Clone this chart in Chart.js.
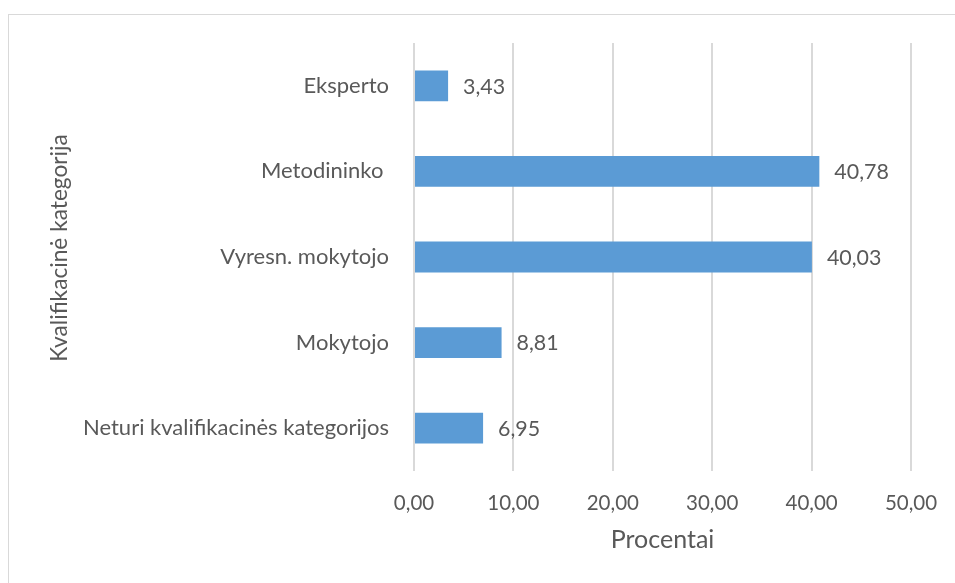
<!DOCTYPE html>
<html>
<head>
<meta charset="utf-8">
<script src="https://cdn.jsdelivr.net/npm/chart.js@4"></script>
<style>
  html, body { margin: 0; padding: 0; background: #fff; }
  #wrap { position: relative; width: 955px; height: 583px; }
  #frame { position: absolute; left: 8px; top: 14px; right: -2px; bottom: -2px; border: 1px solid #d9d9d9; }
  canvas { position: absolute; left: 0; top: 0; }
</style>
</head>
<body>
<div id="wrap">
  <div id="frame"></div>
  <canvas id="chart" width="955" height="583"></canvas>
</div>
<script>
const categories = ['Eksperto', 'Metodininko ', 'Vyresn. mokytojo', 'Mokytojo', 'Neturi kvalifikacinės kategorijos'];
const percentValues = [3.43, 40.78, 40.03, 8.81, 6.95];
const xTicks = [0, 10, 20, 30, 40, 50];
const yTitle = 'Kvalifikacinė kategorija';

const textColor = '#595959';
const fontFamily = 'Lato, "Open Sans", sans-serif';

function fmt(v) {
    return v.toFixed(2).replace('.', ',');
}

// value labels right of each bar + the rotated y title
const extraText = {
    id: 'extraText',
    afterDatasetsDraw(chart) {
        const ctx = chart.ctx;
        const meta = chart.getDatasetMeta(0);
        ctx.save();
        ctx.font = '21.4px ' + fontFamily;
        ctx.fillStyle = textColor;
        ctx.textAlign = 'left';
        ctx.textBaseline = 'middle';
        meta.data.forEach((bar, i) => {
            ctx.fillText(fmt(percentValues[i]), bar.x + 15, bar.y + 1);
        });

        // y title sits a bit above the plot centre in the original
        const area = chart.chartArea;
        ctx.translate(60, (area.top + area.bottom) / 2 - 9);
        ctx.rotate(-Math.PI / 2);
        ctx.font = '22.7px ' + fontFamily;
        ctx.textAlign = 'center';
        ctx.fillText(yTitle, 0, 0);
        ctx.restore();
    }
};

const ctx = document.getElementById('chart').getContext('2d');
new Chart(ctx, {
    type: 'bar',
    data: {
        labels: categories,
        datasets: [{
            data: percentValues,
            backgroundColor: '#5b9bd5',
            categoryPercentage: 1,
            barPercentage: 0.36
        }]
    },
    options: {
        indexAxis: 'y',
        responsive: false,
        animation: false,
        layout: { padding: { top: 43, right: 44, left: 0, bottom: 0 } },
        plugins: {
            legend: { display: false },
            tooltip: { enabled: false }
        },
        scales: {
            x: {
                min: 0,
                max: 50,
                afterBuildTicks: (scale) => { scale.ticks = xTicks.map(v => ({ value: v })); },
                afterFit: (scale) => {
                    scale.height = 112;
                    scale.paddingRight = 0;
                    scale.paddingLeft = 0;
                },
                grid: { color: '#d9d9d9', lineWidth: 2, drawTicks: false },
                border: { display: false },
                ticks: {
                    padding: 20,
                    color: textColor,
                    font: { family: fontFamily, size: 20.5 },
                    maxRotation: 0,
                    callback: (v) => fmt(v)
                },
                title: {
                    display: true,
                    text: 'Procentai',
                    color: textColor,
                    font: { family: fontFamily, size: 25 },
                    padding: { top: 0, bottom: 28 }
                }
            },
            y: {
                afterFit: (scale) => { scale.width = 414; },
                grid: { display: false },
                border: { display: false },
                ticks: {
                    padding: 17,
                    color: textColor,
                    font: { family: fontFamily, size: 22 }
                }
            }
        }
    },
    plugins: [extraText]
});
</script>
</body>
</html>
